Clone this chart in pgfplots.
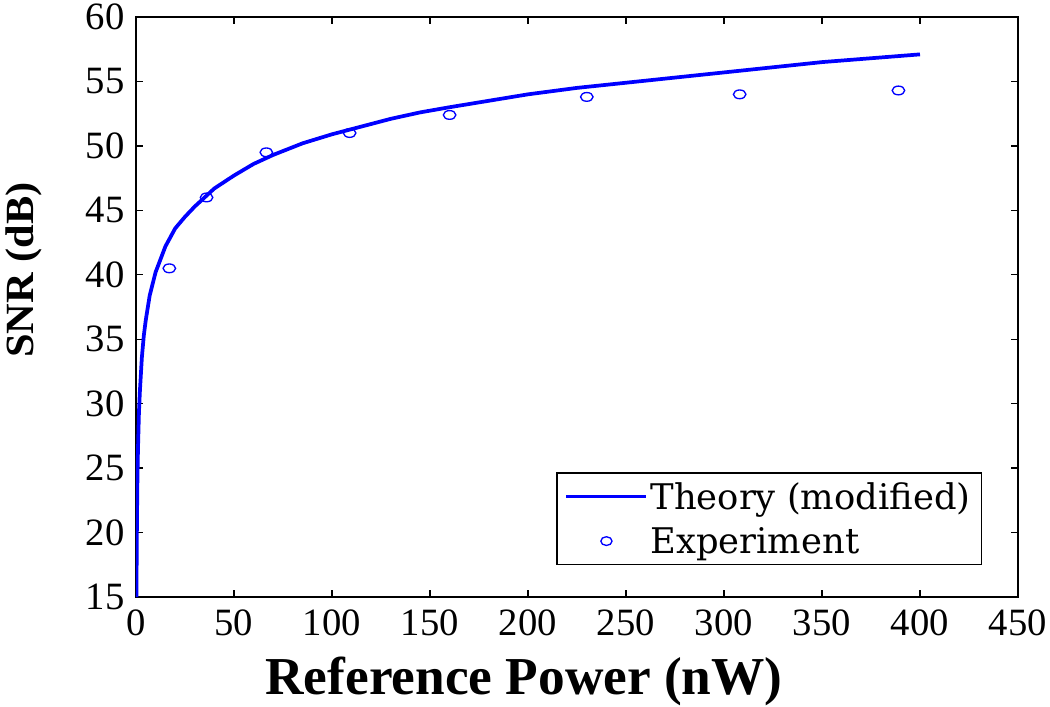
\documentclass[border=0pt]{standalone}
\usepackage{fontspec}
\setmainfont{Liberation Serif}
\newfontfamily\tickfont{Liberation Serif}
\newfontfamily\ylabfont[FakeStretch=1.06]{Liberation Serif}
\newfontfamily\legfont{DejaVu Serif}
\usepackage{pgfplots}
\pgfplotsset{compat=1.18}
\definecolor{mblue}{RGB}{0,0,255}
\begin{document}
\begin{tikzpicture}
\path[use as bounding box] (-102pt,-82.5pt) rectangle (685.5pt,447.75pt);
\begin{axis}[
  at={(0,0)}, anchor=south west,
  scale only axis, width=661.5pt, height=435pt,
  xmin=0, xmax=450, ymin=15, ymax=60,
  xtick={0,50,...,450}, ytick={15,20,...,60},
  tick align=inside, major tick length=5pt,
  axis line style={line width=1pt}, every tick/.style={line width=1pt, black},
  /pgf/number format/assume math mode=true,
  ticklabel style={font=\tickfont\fontsize{29}{29}\selectfont},
  xticklabel style={yshift=-6pt},
  yticklabel style={xshift=-5pt},
  xlabel={\textbf{Reference Power (nW)}},
  ylabel={\textbf{SNR (dB)}},
  xlabel style={font=\fontsize{40}{42}\selectfont, at={(axis description cs:0.44,-0.145)}, anchor=center},
  ylabel style={font=\ylabfont\fontsize{30}{33}\selectfont, at={(axis description cs:-0.127,0.564)}, anchor=center},
  legend style={at={(axis description cs:0.959,0.055)}, anchor=south east,
    draw=black, line width=1pt, font=\legfont\fontsize{26.5}{30}\selectfont,
    inner xsep=6pt, inner ysep=5pt, row sep=8pt},
  legend cell align=left,
]
\addplot[mblue, line width=2.8pt, line join=round,
  legend image code/.code={\draw[mblue, line width=2.2pt] (0pt,0pt) -- (60pt,0pt);}]
  coordinates {
  (0.235,15.0) (0.3,16.9) (0.4,19.2) (0.5,21.0) (0.7,23.8) (1,26.4) (1.5,29.3)
  (2,31.0) (3,33.6) (4,35.3) (5,36.5) (7,38.4) (10,40.2) (15,42.2) (20,43.6)
  (25,44.5) (30,45.3) (40,46.7) (50,47.7) (60,48.6) (70,49.3) (85,50.2) (100,50.9)
  (115,51.5) (130,52.1) (145,52.6) (160,53.0) (180,53.5) (200,54.0) (225,54.5)
  (250,54.9) (275,55.3) (300,55.7) (325,56.1) (350,56.5) (375,56.8) (400,57.1)
  };
\addlegendentry{Theory (modified)}
\addplot[only marks, mark=o, mblue, mark size=4.2pt,
  mark options={line width=1pt, yscale=0.78, xscale=1.12},
  legend image code/.code={\draw[mblue, mark=o, mark size=4.2pt, mark options={line width=1pt, yscale=0.78}] plot coordinates {(30pt,0pt)};}]
  coordinates {
  (17,40.5) (36,46.0) (66.5,49.5) (109,51.0) (160,52.4) (230,53.8) (308,54.0) (389,54.3)
  };
\addlegendentry{Experiment}
\end{axis}
\end{tikzpicture}
\end{document}
